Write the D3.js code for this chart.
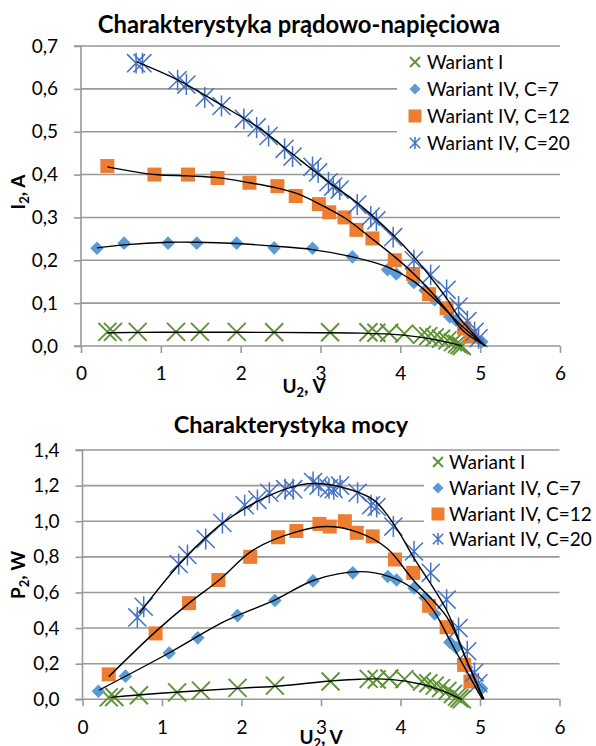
<!DOCTYPE html>
<html><head><meta charset="utf-8">
<script src="https://cdn.jsdelivr.net/npm/d3@7"></script>
<style>body{margin:0;background:#fff}svg{display:block}text{font-family:Lato,"Open Sans",sans-serif}</style>
</head><body>
<svg id="c" width="596" height="746"></svg>
<script>
// ---------- data ----------
const seriesNames = ["Wariant I", "Wariant IV, C=7", "Wariant IV, C=12", "Wariant IV, C=20"];
const xTicks = [0, 1, 2, 3, 4, 5, 6];
const yTicksI = [0, 0.1, 0.2, 0.3, 0.4, 0.5, 0.6, 0.7];
const yTicksP = [0, 0.2, 0.4, 0.6, 0.8, 1.0, 1.2, 1.4];

// Wariant I
const u1 = [0.33, 0.40, 0.71, 1.19, 1.49, 1.95, 2.42, 3.12, 3.60, 3.70, 3.86, 4.05, 4.27, 4.35, 4.43, 4.51, 4.59, 4.66, 4.71, 4.74, 4.77];
const i1 = [0.033, 0.033, 0.033, 0.033, 0.033, 0.033, 0.032, 0.032, 0.032, 0.031, 0.031, 0.029, 0.026, 0.023, 0.020, 0.017, 0.013, 0.009, 0.005, 0.002, 0.000];
const p1 = [0.011, 0.013, 0.023, 0.039, 0.049, 0.064, 0.077, 0.100, 0.115, 0.111, 0.117, 0.113, 0.100, 0.090, 0.077, 0.063, 0.047, 0.030, 0.015, 0.006, 0.000];
// Wariant IV, C=7
const u7 = [0.20, 0.54, 1.09, 1.45, 1.95, 2.42, 2.90, 3.40, 3.84, 3.95, 4.17, 4.31, 4.43, 4.62, 4.70, 4.83, 5.02];
const i7 = [0.228, 0.240, 0.240, 0.240, 0.240, 0.229, 0.228, 0.208, 0.178, 0.168, 0.148, 0.130, 0.108, 0.068, 0.060, 0.037, 0.010];
const p7 = [0.045, 0.130, 0.260, 0.345, 0.470, 0.555, 0.665, 0.710, 0.690, 0.670, 0.625, 0.570, 0.480, 0.320, 0.290, 0.180, 0.060];
// Wariant IV, C=12
const u12 = [0.33, 0.92, 1.34, 1.71, 2.11, 2.46, 2.69, 2.98, 3.11, 3.30, 3.45, 3.65, 3.93, 4.16, 4.36, 4.58, 4.80, 4.88];
const i12 = [0.420, 0.400, 0.400, 0.392, 0.381, 0.373, 0.350, 0.331, 0.312, 0.300, 0.271, 0.251, 0.200, 0.168, 0.121, 0.088, 0.041, 0.022];
const p12 = [0.140, 0.370, 0.540, 0.670, 0.800, 0.910, 0.945, 0.985, 0.970, 1.000, 0.935, 0.915, 0.785, 0.710, 0.525, 0.405, 0.193, 0.100];
// Wariant IV, C=20
const u20 = [0.69, 0.77, 1.21, 1.32, 1.55, 1.76, 2.04, 2.20, 2.35, 2.55, 2.65, 2.90, 2.97, 3.10, 3.16, 3.24, 3.46, 3.63, 3.70, 3.91, 4.17, 4.38, 4.58, 4.73, 4.84, 4.93, 4.98];
const i20 = [0.660, 0.660, 0.620, 0.610, 0.580, 0.560, 0.530, 0.510, 0.490, 0.460, 0.442, 0.418, 0.405, 0.382, 0.372, 0.365, 0.330, 0.302, 0.293, 0.254, 0.200, 0.166, 0.131, 0.092, 0.058, 0.033, 0.018];
const p20 = [0.460, 0.520, 0.760, 0.810, 0.900, 0.990, 1.090, 1.120, 1.160, 1.180, 1.180, 1.220, 1.200, 1.185, 1.180, 1.200, 1.160, 1.090, 1.080, 0.970, 0.830, 0.710, 0.560, 0.400, 0.270, 0.150, 0.090];

// trendlines: [U, value]
const trendI1 = [[0.33, 0.031], [1.0, 0.032], [2.0, 0.032], [3.0, 0.031], [3.5, 0.030], [4.0, 0.026], [4.3, 0.019], [4.5, 0.012], [4.65, 0.006], [4.77, 0.0]];
const trendI7 = [[0.20, 0.229], [0.54, 0.236], [1.09, 0.242], [1.45, 0.242], [1.95, 0.239], [2.42, 0.233], [2.9, 0.225], [3.4, 0.208], [3.83, 0.185], [4.16, 0.152], [4.46, 0.104], [4.75, 0.05], [5.06, 0.0]];
const trendI12 = [[0.33, 0.418], [0.92, 0.400], [1.34, 0.397], [1.71, 0.393], [2.11, 0.381], [2.45, 0.369], [2.70, 0.356], [2.97, 0.333], [3.31, 0.298], [3.64, 0.251], [3.93, 0.208], [4.16, 0.170], [4.36, 0.132], [4.58, 0.084], [4.79, 0.035], [5.07, 0.0]];
const trendI20 = [[0.70, 0.663], [1.21, 0.621], [1.76, 0.562], [2.22, 0.510], [2.62, 0.452], [3.12, 0.380], [3.46, 0.334], [3.91, 0.259], [4.17, 0.208], [4.39, 0.158], [4.58, 0.111], [4.73, 0.068], [5.06, 0.0]];
const trendP1 = [[0.35, 0.011], [0.98, 0.034], [2.0, 0.063], [2.48, 0.075], [3.13, 0.103], [3.49, 0.113], [3.87, 0.112], [4.25, 0.086], [4.50, 0.052], [4.77, 0.0]];
const trendP7 = [[0.21, 0.052], [1.06, 0.253], [1.8, 0.44], [2.43, 0.560], [2.92, 0.670], [3.49, 0.717], [3.86, 0.689], [4.18, 0.614], [4.41, 0.502], [4.64, 0.315], [4.87, 0.127], [5.03, 0.0]];
const trendP12 = [[0.33, 0.127], [0.92, 0.380], [1.34, 0.540], [1.72, 0.670], [2.15, 0.839], [2.69, 0.940], [3.07, 0.970], [3.45, 0.940], [3.83, 0.848], [4.16, 0.670], [4.58, 0.464], [4.83, 0.22], [5.04, 0.0]];
const trendP20 = [[0.715, 0.483], [1.23, 0.764], [1.75, 0.985], [2.32, 1.138], [2.74, 1.204], [2.95, 1.212], [3.24, 1.194], [3.66, 1.120], [3.95, 0.960], [4.16, 0.800], [4.58, 0.500], [4.83, 0.22], [5.05, 0.0]];

// ---------- drawing ----------
const svg = d3.select("#c");
svg.append("rect").attr("width", 596).attr("height", 746).attr("fill", "#fff");
const colors = ["#5e9338", "#5b9bd5", "#ed7d31", "#4472c4"];
const gridCol = "#999999";
const fmt = d => d3.format(".1f")(d).replace(".", ",");

function marker(g, type, x, y, s) {
  if (type === 0) {
    g.append("path").attr("d", `M${x - s},${y - s}L${x + s},${y + s}M${x - s},${y + s}L${x + s},${y - s}`)
      .attr("stroke", colors[0]).attr("stroke-width", 1.9).attr("fill", "none");
  } else if (type === 1) {
    g.append("path").attr("d", `M${x},${y - s}L${x + s},${y}L${x},${y + s}L${x - s},${y}Z`).attr("fill", colors[1]);
  } else if (type === 2) {
    g.append("rect").attr("x", x - s).attr("y", y - s).attr("width", 2 * s).attr("height", 2 * s).attr("fill", colors[2]);
  } else {
    const d = s * 0.95;
    g.append("path").attr("d", `M${x - d},${y - d}L${x + d},${y + d}M${x - d},${y + d}L${x + d},${y - d}M${x},${y - s * 1.1}L${x},${y + s * 1.1}`)
      .attr("stroke", colors[3]).attr("stroke-width", 1.5).attr("fill", "none");
  }
}

function chart(cfg) {
  const g = svg.append("g");
  const x = d3.scaleLinear().domain([0, 6]).range(cfg.xr);
  const y = d3.scaleLinear().domain([0, cfg.ymax]).range(cfg.yr);
  // grid
  g.selectAll(".gl").data(cfg.yTicks.filter(d => d > 0)).join("line")
    .attr("x1", x(0)).attr("x2", x(6)).attr("y1", d => y(d)).attr("y2", d => y(d))
    .attr("stroke", gridCol).attr("stroke-width", 1.6);
  // axes
  const ya = g.append("g").attr("transform", `translate(${x(0)},0)`)
    .call(d3.axisLeft(y).tickValues(cfg.yTicks).tickFormat(fmt).tickSize(7).tickPadding(16));
  const xa = g.append("g").attr("transform", `translate(0,${y(0)})`)
    .call(d3.axisBottom(x).tickValues(xTicks).tickFormat(d3.format("d")).tickSize(7).tickPadding(14));
  [ya, xa].forEach(a => {
    a.select(".domain").attr("stroke", gridCol).attr("stroke-width", 1.6);
    a.selectAll(".tick line").attr("stroke", gridCol).attr("stroke-width", 1.6);
    a.selectAll(".tick text").attr("fill", "#000").style("font-size", "19px").style("font-family", "Lato");
  });
  ya.select(".domain").attr("d", `M-7,${y(cfg.ymax)}H0V${y(0)}H-7`);
  xa.select(".domain").attr("d", `M${x(0)},0H${x(6)}`);
  // legend background
  g.append("rect").attr("x", cfg.leg.x0).attr("y", cfg.leg.y0).attr("width", cfg.leg.w).attr("height", cfg.leg.h).attr("fill", "#fff");
  // markers
  const mg = g.append("g");
  cfg.series.forEach((s, k) => {
    s.u.forEach((u, j) => {
      const sz = [9, 6.8, 7, 9.5][k];
      marker(mg, k, x(u), y(s.v[j]), sz);
    });
  });
  // trendlines
  const line = d3.line().x(d => x(d[0])).y(d => y(d[1])).curve(d3.curveCatmullRom.alpha(0.5));
  cfg.trends.forEach(t => g.append("path").attr("d", line(t)).attr("fill", "none").attr("stroke", "#000").attr("stroke-width", 1.4));
  // legend
  seriesNames.forEach((n, k) => {
    const ly = cfg.leg.ys[k];
    marker(g, k, cfg.leg.mx, ly, [5, 5.5, 6.5, 5.5][k]);
    g.append("text").attr("x", cfg.leg.tx).attr("y", ly).attr("dy", "0.35em").style("font-size", "19px").text(n);
  });
  // title
  g.append("text").attr("x", cfg.title.x).attr("y", cfg.title.y).attr("text-anchor", "middle")
    .style("font-size", cfg.title.fs).style("font-weight", "bold").text(cfg.title.t);
  // x-axis title
  const xt = g.append("text").attr("x", cfg.xt.x).attr("y", cfg.xt.y).attr("text-anchor", "middle")
    .style("font-size", "19px").style("font-weight", "bold");
  xt.append("tspan").text("U");
  xt.append("tspan").attr("dy", 4).style("font-size", "13px").text("2");
  xt.append("tspan").attr("dy", -4).text(", V");
  // y-axis title
  const yt = g.append("text").attr("transform", `translate(${cfg.yt.x},${cfg.yt.y}) rotate(-90)`).attr("text-anchor", "middle")
    .style("font-size", "19px").style("font-weight", "bold");
  yt.append("tspan").text(cfg.yt.t);
  yt.append("tspan").attr("dy", 4).style("font-size", "13px").text("2");
  yt.append("tspan").attr("dy", -4).text(cfg.yt.unit);
}

chart({
  xr: [81, 560], yr: [346, 46], ymax: 0.7, yTicks: yTicksI,
  series: [{u: u1, v: i1}, {u: u7, v: i7}, {u: u12, v: i12}, {u: u20, v: i20}],
  trends: [trendI1, trendI7, trendI12, trendI20],
  leg: {x0: 397, y0: 50, w: 170, h: 110, mx: 415, tx: 427, ys: [62, 89, 116, 143]},
  title: {x: 299, y: 33, fs: "23.8px", t: "Charakterystyka prądowo-napięciowa"},
  xt: {x: 304, y: 393},
  yt: {x: 25, y: 192, t: "I", unit: ", A"}
});
chart({
  xr: [82.5, 559.5], yr: [699.3, 450], ymax: 1.4, yTicks: yTicksP,
  series: [{u: u1, v: p1}, {u: u7, v: p7}, {u: u12, v: p12}, {u: u20, v: p20}],
  trends: [trendP1, trendP7, trendP12, trendP20],
  leg: {x0: 424, y0: 452, w: 172, h: 98, mx: 438, tx: 449, ys: [462, 488, 514, 539]},
  title: {x: 291, y: 433, fs: "23.5px", t: "Charakterystyka mocy"},
  xt: {x: 321, y: 744},
  yt: {x: 25, y: 575, t: "P", unit: ", W"}
});
</script>
</body></html>
